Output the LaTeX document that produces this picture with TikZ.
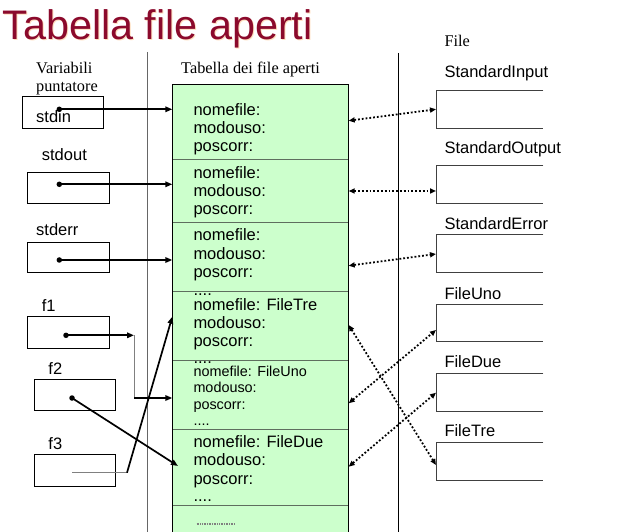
\documentclass[tikz,border=0pt]{standalone}
\usepackage{fontspec}
\setmainfont{Liberation Serif}
\setsansfont{Liberation Sans}
\usetikzlibrary{arrows.meta}
\definecolor{titlered}{HTML}{8B0A2C}
\definecolor{rowgreen}{HTML}{CCFFCC}
\definecolor{divgray}{HTML}{5E6E5E}
\tikzset{
  sans/.style={font=\sffamily\fontsize{16.5}{18}\selectfont, inner sep=0pt, anchor=base west},
  small/.style={font=\sffamily\fontsize{14.4}{16}\selectfont, inner sep=0pt, anchor=base west},
  serifl/.style={font=\rmfamily\fontsize{16.3}{18}\selectfont, inner sep=0pt, anchor=base west},
  varbox/.style={draw=black, line width=0.9pt, anchor=north west, inner sep=0pt},
  rowbox/.style={fill=rowgreen, draw=none, anchor=north west, inner sep=0pt, minimum width=176pt},
  filebox/.style={draw=none, anchor=north west, inner sep=0pt, minimum width=107pt},
  ptr/.style={line width=1.7pt, -{Triangle[length=7pt,width=5.5pt]}},
  dotarrow/.style={line width=1.8pt, dotted, {Triangle[length=6pt,width=5pt]}-{Triangle[length=6pt,width=5pt]}},
  thin/.style={draw=gray, line width=0.9pt},
  dot/.style={circle, fill=black, inner sep=0pt, minimum size=5.5pt},
}
\begin{document}
\begin{tikzpicture}[x=1pt,y=-1pt]
\useasboundingbox (0,0) rectangle (630,532);
% title
\node[font=\sffamily\fontsize{41.3}{44}\selectfont, text=orange!25, inner sep=0pt, anchor=base west] (titleshadow) at (3.5,40.1) {Tabella file aperti};
\node[font=\sffamily\fontsize{41.3}{44}\selectfont, text=titlered, inner sep=0pt, anchor=base west] (title) at (2.5,39.3) {Tabella file aperti};
% separators
\coordinate (s1t) at (147,52); \coordinate (s1b) at (147,532);
\coordinate (s2t) at (398,53); \coordinate (s2b) at (398,532);
\draw[gray!80!black, line width=0.9pt] (s1t) -- (s1b);
\draw[black, line width=0.9pt] (s2t) -- (s2b);
% headers
\node[serifl] (hvar1) at (36,74) {Variabili};
\node[serifl] (hvar2) at (36,91.5) {puntatore};
\node[serifl] (htab) at (181,74) {Tabella dei file aperti};
\node[serifl] (hfile) at (444.3,46.7) {File};
% table rows
\node[rowbox, minimum height=75pt] (r1) at (172.3,84.3) {};
\node[rowbox, minimum height=63pt] (r2) at (172.3,159.3) {};
\node[rowbox, minimum height=69pt] (r3) at (172.3,222.3) {};
\node[rowbox, minimum height=69pt] (r4) at (172.3,291.3) {};
\node[rowbox, minimum height=69.4pt] (r5) at (172.3,360.3) {};
\node[rowbox, minimum height=75.6pt] (r6) at (172.3,429.7) {};
\node[rowbox, minimum height=26.7pt] (r7) at (172.3,505.3) {};
\foreach \r in {r2,r3,r4,r5,r6,r7} \draw[divgray, line width=0.9pt] (\r.north west) -- (\r.north east);
\draw[black, line width=1pt] (r7.south west) -- (r1.north west) -- (r1.north east) -- (r7.south east);
% row texts
\node[sans] (t11) at (193.3,115.7) {nomefile:};
\node[sans] (t12) at (193.3,134) {modouso:};
\node[sans] (t13) at (193.3,152) {poscorr:};
\node[sans] (t21) at (193.3,178.3) {nomefile:};
\node[sans] (t22) at (193.3,196.7) {modouso:};
\node[sans] (t23) at (193.3,215) {poscorr:};
\node[sans] (t31) at (193.3,240.7) {nomefile:};
\node[sans] (t32) at (193.3,259) {modouso:};
\node[sans] (t33) at (193.3,277.3) {poscorr:};
\node[sans] (t40) at (193.3,295) {....};
\node[sans] (t41) at (193.3,310) {nomefile: FileTre};
\node[sans] (t42) at (193.3,328.3) {modouso:};
\node[sans] (t43) at (193.3,346) {poscorr:};
\node[sans] (t44) at (193.3,363.3) {....};
\node[small] (t51) at (193.3,376.7) {nomefile: FileUno};
\node[small] (t52) at (193.3,392.3) {modouso:};
\node[small] (t53) at (193.3,409.3) {poscorr:};
\node[small] (t54) at (193.3,425.3) {....};
\node[sans] (t61) at (193.3,447.7) {nomefile: FileDue};
\node[sans] (t62) at (193.3,465.7) {modouso:};
\node[sans] (t63) at (193.3,484) {poscorr:};
\node[sans] (t64) at (193.3,501.7) {....};
\coordinate (d7a) at (196.7,524); \coordinate (d7b) at (235,524);
\draw[gray, line width=1.2pt, dash pattern=on 0.8pt off 0.9pt] (d7a) -- (d7b);
% variable boxes
\node[varbox, minimum width=81.6pt, minimum height=32.3pt] (bin) at (21.7,96) {};
\node[varbox, minimum width=82pt, minimum height=31pt] (bout) at (27.3,172.3) {};
\node[varbox, minimum width=82pt, minimum height=30.6pt] (berr) at (27.3,241.7) {};
\node[varbox, minimum width=82pt, minimum height=32.3pt] (bf1) at (27.3,316) {};
\node[varbox, minimum width=81pt, minimum height=31pt] (bf2) at (34.3,379) {};
\node[varbox, minimum width=81pt, minimum height=32pt] (bf3) at (34.3,454) {};
\node[sans] (lin) at (36,122.7) {stdin};
\node[sans] (lout) at (41.7,161) {stdout};
\node[sans] (lerr) at (36,236) {stderr};
\node[sans] (lf1) at (41.7,311.7) {f1};
\node[sans] (lf2) at (48.3,374.3) {f2};
\node[sans] (lf3) at (48.3,449.3) {f3};
% pointer dots
\node[dot] (pin) at (59.3,109.3) {};
\node[dot] (pout) at (59.3,184.3) {};
\node[dot] (perr) at (59.3,260) {};
\node[dot] (pf1) at (66,335.3) {};
\node[dot] (pf2) at (72,398) {};
\coordinate (pf3) at (72,472.7);
% pointer arrows
\draw[ptr] (pin.center) -- (r1.west |- pin);
\draw[ptr] (pout.center) -- (r2.west |- pout);
\draw[ptr] (perr.center) -- (r3.west |- perr);
\coordinate (f1k) at (134,335.3);
\coordinate (f1m) at (134,398);
\draw[ptr] (pf1.center) -- (f1k);
\draw[thin] (f1k) -- (f1m);
\draw[ptr] (f1m) -- (r5.west |- f1m);
\coordinate (f2e) at (178,466);
\draw[ptr] (pf2.center) -- (f2e);
\coordinate (f3k) at (127,472.7);
\coordinate (f3e) at (172.3,316.7);
\draw[thin] (pf3) -- (f3k);
\draw[ptr] (f3k) -- (f3e);
% file boxes
\node[filebox, minimum height=37.7pt] (fin) at (436,90.3) {};
\node[filebox, minimum height=37.6pt] (fout) at (436,165.7) {};
\node[filebox, minimum height=37.6pt] (ferr) at (436,234.7) {};
\node[filebox, minimum height=37.3pt] (funo) at (436,304) {};
\node[filebox, minimum height=37.4pt] (fdue) at (436,373.3) {};
\node[filebox, minimum height=37.7pt] (ftre) at (436,442.3) {};
\foreach \f in {fin,fout,ferr,funo,fdue,ftre}
  \draw[black!75, line width=1pt] (\f.north east) -| (\f.south west) -- (\f.south east);
\node[sans] (lfin) at (444.3,77.7) {StandardInput};
\node[sans] (lfout) at (444.3,154) {StandardOutput};
\node[sans] (lferr) at (444.3,230) {StandardError};
\node[sans] (lfuno) at (444.3,299.3) {FileUno};
\node[sans] (lfdue) at (444.3,367.7) {FileDue};
\node[sans] (lftre) at (444.3,436.7) {FileTre};
% dotted double arrows
\draw[dotarrow] (r1.east |- 0,120.7) -- (fin.west |- 0,109.3);
\draw[dotarrow] (r2.east |- 0,191) -- (fout.west |- 0,191);
\draw[dotarrow] (r3.east |- 0,265.7) -- (ferr.west |- 0,254);
\draw[dotarrow] (r4.east |- 0,325) -- (ftre.west |- 0,465);
\draw[dotarrow] (r5.east |- 0,403.3) -- (funo.west |- 0,330);
\draw[dotarrow] (r6.east |- 0,466.7) -- (fdue.west |- 0,392.7);
\end{tikzpicture}
\end{document}
